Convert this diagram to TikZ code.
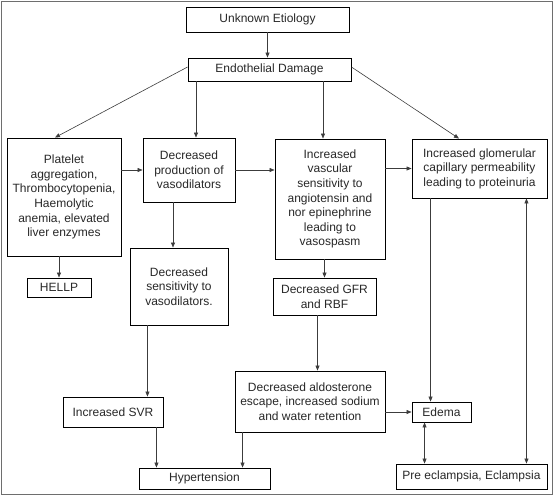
\documentclass[tikz,border=0pt]{standalone}
\usepackage{fontspec}
\setmainfont{Liberation Sans}
\usepackage{xcolor}
\definecolor{FrameGray}{RGB}{110,110,110}
\definecolor{LineGray}{RGB}{60,60,60}
\definecolor{TextGray}{RGB}{40,40,40}
\usepackage{tikz}
\usetikzlibrary{arrows.meta, positioning, calc}
\tikzset{
  % plain rectangular box
  pbox/.style={
    rectangle, draw=black, line width=0.9pt,
    fill=white, align=center, text=TextGray,
    font=\fontsize{12}{14.6}\selectfont,
    inner sep=2pt
  },
  % arrows
  arr/.style={-{Triangle[length=5pt,width=4pt]}, line width=0.6pt, LineGray},
  dblarr/.style={{Triangle[length=5pt,width=4pt]}-{Triangle[length=5pt,width=4pt]}, line width=0.6pt, LineGray},
}

\begin{document}
\begin{tikzpicture}[x=1pt, y=-1pt]

  \useasboundingbox (0,0) rectangle (554,496);
  \draw[FrameGray, line width=1pt] (1,1) rectangle (552.5,494.5);

  %% Top
  \node[pbox, minimum width=163pt, minimum height=25pt] (etio) at (267.5,19.5) {Unknown Etiology};
  \node[pbox, minimum width=163pt, minimum height=23pt] (endo) at (269.5,69.5) {Endothelial Damage};

  %% Second row
  \node[pbox, minimum width=114pt, minimum height=118pt] (plat) at (64,197)
    {Platelet\\ aggregation,\\ Thrombocytopenia,\\ Haemolytic\\ anemia, elevated\\ liver enzymes};
  \node[pbox, minimum width=92pt, minimum height=64pt] (prod) at (189,170)
    {Decreased\\ production of\\ vasodilators};
  \node[pbox, minimum width=110pt, minimum height=120pt] (vasc) at (330,199)
    {Increased\\ vascular\\ sensitivity to\\ angiotensin and\\ nor epinephrine\\ leading to\\ vasospasm};
  \node[pbox, minimum width=135pt, minimum height=59pt] (glom) at (479.5,168.5)
    {Increased glomerular\\ capillary permeability\\ leading to proteinuria};

  %% Third row
  \node[pbox, minimum width=64pt, minimum height=19pt] (hellp) at (59,287.5) {HELLP};
  \node[pbox, minimum width=98pt, minimum height=77pt] (sens) at (179,286.5)
    {Decreased\\ sensitivity to\\ vasodilators.};
  \node[pbox, minimum width=103pt, minimum height=37pt] (gfr) at (324.5,296.5)
    {Decreased GFR\\ and RBF};

  %% Lower rows
  \node[pbox, minimum width=150pt, minimum height=61pt] (aldo) at (310,401.5)
    {Decreased aldosterone\\ escape, increased sodium\\ and water retention};
  \node[pbox, minimum width=59pt, minimum height=20pt] (edema) at (441.5,412) {Edema};
  \node[pbox, minimum width=100pt, minimum height=30pt] (svr) at (113,412) {Increased SVR};
  \node[pbox, minimum width=131pt, minimum height=21pt] (hyper) at (204.5,478.5) {Hypertension};
  \node[pbox, minimum width=151pt, minimum height=25pt] (pre) at (471.5,476.5) {Pre eclampsia, Eclampsia};

  %% Connectors from the top
  \draw[arr] (etio.south) -- (etio.south |- endo.north);
  \draw[arr] ([yshift=2.5pt]endo.west) -- ([xshift=-9pt]plat.north);
  \draw[arr] ([xshift=7pt]prod.north |- endo.south) -- ([xshift=7pt]prod.north);
  \draw[arr] ([xshift=-7pt]vasc.north |- endo.south) -- ([xshift=-7pt]vasc.north);
  \draw[arr] ([yshift=2.5pt]endo.east) -- ([xshift=-20.5pt]glom.north);

  %% Across the second row
  \draw[arr] (plat.east |- prod.west) -- (prod.west);
  \draw[arr] (prod.east) -- (prod.east -| vasc.west);
  \draw[arr] (glom.west -| vasc.east) -- (glom.west);

  %% Downwards
  \draw[arr] (plat.south -| hellp.north) -- (hellp.north);
  \draw[arr] ([xshift=-6pt]sens.north |- prod.south) -- ([xshift=-6pt]sens.north);
  \draw[arr] (vasc.south -| gfr.north) -- (gfr.north);
  \draw[arr] ([xshift=-7pt]gfr.south) -- ([xshift=-7pt]gfr.south |- aldo.north);
  \draw[arr] ([xshift=-16pt]svr.north east |- sens.south) -- ([xshift=-16pt]svr.north east);
  \draw[arr] ([xshift=-7pt]svr.south east) -- ([xshift=-7pt]svr.south east |- hyper.north);
  \draw[arr] ([xshift=8pt]aldo.south west) -- ([xshift=8pt]aldo.south west |- hyper.north);
  \draw[arr] (aldo.east |- edema.west) -- (edema.west);
  \draw[arr] ([xshift=19pt]glom.south west) -- ([xshift=19pt]glom.south west |- edema.north);

  %% Two-way links
  \draw[dblarr] ([xshift=13pt]edema.south west) -- ([xshift=13pt]edema.south west |- pre.north);
  \draw[dblarr] ([xshift=-21pt]glom.south east) -- ([xshift=-21pt]glom.south east |- pre.north);

\end{tikzpicture}
\end{document}
